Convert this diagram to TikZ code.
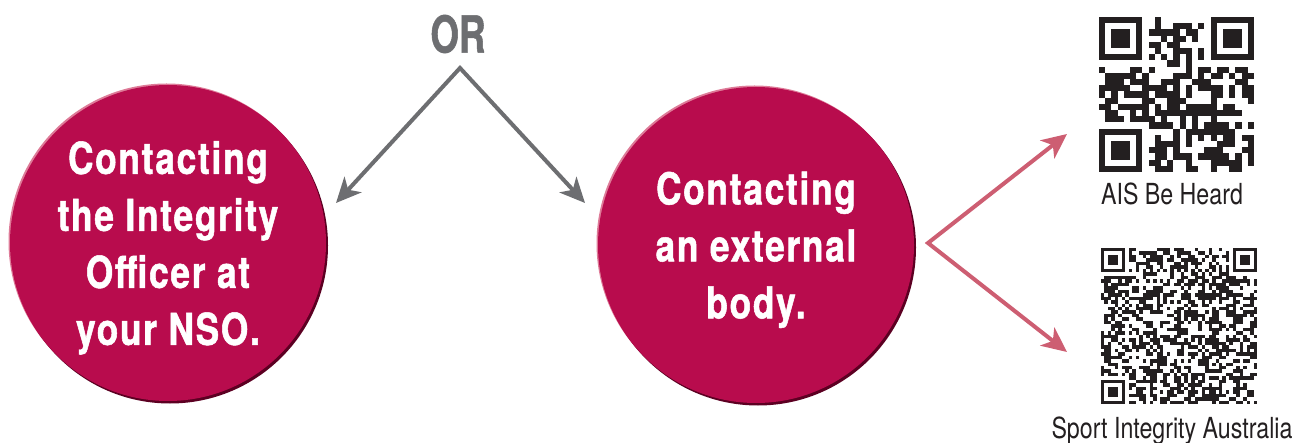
\documentclass[tikz,border=0pt]{standalone}
\usepackage{fontspec}
\setmainfont{TeX Gyre Heros}
\newfontfamily\bubblefont[FakeStretch=0.8,LetterSpace=4,FakeBold=1.2]{TeX Gyre Heros}
\newfontfamily\orfont[FakeStretch=0.72,FakeBold=1]{TeX Gyre Heros}
\newfontfamily\qrfont[FakeStretch=0.8]{TeX Gyre Heros}
\usetikzlibrary{arrows.meta,positioning}
\definecolor{nsored}{HTML}{B80C4D}
\definecolor{nsorim}{HTML}{5C0022}
\definecolor{nsoshine}{HTML}{DE7B98}
\definecolor{orgray}{HTML}{6D6E71}
\definecolor{linkpink}{HTML}{CD5E72}
\definecolor{qrink}{HTML}{231F20}

% pseudo QR block: #1,#2 top-left corner, #3 modules, #4 module size
\newcommand{\qrblock}[4]{%
  \pgfmathtruncatemacro{\qrlast}{#3-1}
  \pgfmathtruncatemacro{\qrcorner}{#3-7}
  \foreach \col in {0,...,\qrlast}{
    \foreach \row in {0,...,\qrlast}{
      \pgfmathtruncatemacro{\infinder}{(\col<8 && \row<8) || (\col>\qrcorner-2 && \row<8) || (\col<8 && \row>\qrcorner-2)}
      \pgfmathtruncatemacro{\qrbit}{rnd<0.52 ? 1 : 0}
      \ifnum\row=6 \pgfmathtruncatemacro{\qrbit}{mod(\col+1,2)}\fi
      \ifnum\col=6 \pgfmathtruncatemacro{\qrbit}{mod(\row+1,2)}\fi
      \ifnum\infinder=0 \ifnum\qrbit=1
        \fill[qrink] ({#1+\col*#4},{#2+\row*#4}) rectangle ++(#4,#4);
      \fi\fi
    }
  }
  % ---------- finder patterns ----------
  \foreach \fx/\fy in {0/0,\qrcorner/0,0/\qrcorner}{
    \fill[qrink] ({#1+\fx*#4},{#2+\fy*#4}) rectangle ++({7*#4},{7*#4});
    \fill[white] ({#1+(\fx+1)*#4},{#2+(\fy+1)*#4}) rectangle ++({5*#4},{5*#4});
    \fill[qrink] ({#1+(\fx+2)*#4},{#2+(\fy+2)*#4}) rectangle ++({3*#4},{3*#4});
  }
}

\begin{document}
\begin{tikzpicture}[x=1pt, y=-1pt,
    bubble/.style={circle, minimum size=316pt, inner sep=0pt, fill=nsored,
      text=white, align=center, text depth=0pt,
      font=\bubblefont\bfseries\fontsize{44}{57}\selectfont,
      preaction={fill=nsoshine, transform canvas={shift={(-1.5pt,1.5pt)}}},
      preaction={fill=nsorim, transform canvas={shift={(2pt,-2.5pt)}}}},
    ortext/.style={text=orgray, inner sep=0pt, font=\orfont\bfseries\fontsize{51}{51}\selectfont},
    orarrow/.style={orgray, line width=4pt, line join=miter,
      {Stealth[length=25pt,width=23pt,inset=7pt]}-{Stealth[length=25pt,width=23pt,inset=7pt]}},
    linkarrow/.style={orarrow, linkpink},
    qrlabel/.style={text=qrink, inner sep=0pt, font=\qrfont\fontsize{29}{29}\selectfont}]
  \useasboundingbox (0,0) rectangle (1314,443);

  % ---------- the two ways ----------
  \node[bubble] (nso) at (168,243) {Contacting\\the Integrity\\Officer at\\your NSO.};
  \node[bubble] (extbody) at (756,245) {Contacting\\an external\\body.};

  % ---------- OR split ----------
  \node[ortext] (orword) at (458,34) {OR};
  \coordinate (orsplit) at (460,68);
  \coordinate (nsotip) at (336,203);
  \coordinate (exttip) at (585,203);
  \draw[orarrow] (nsotip) -- (orsplit) -- (exttip);

  % ---------- external bodies ----------
  \coordinate (bodysplit) at (928,243);
  \coordinate (aistip) at (1067,134);
  \coordinate (siatip) at (1067,352);
  \draw[linkarrow] (aistip) -- (bodysplit) -- (siatip);

  % ---------- QR codes ----------
  \pgfmathsetseed{11}
  \qrblock{1099}{17}{25}{6.2}
  \node[qrlabel, anchor=base] (aislabel) at (1172,205) {AIS Be Heard};
  \pgfmathsetseed{23}
  \qrblock{1101}{248}{45}{3.47}
  \node[qrlabel, anchor=base] (sialabel) at (1172,438) {Sport Integrity Australia};
\end{tikzpicture}
\end{document}
